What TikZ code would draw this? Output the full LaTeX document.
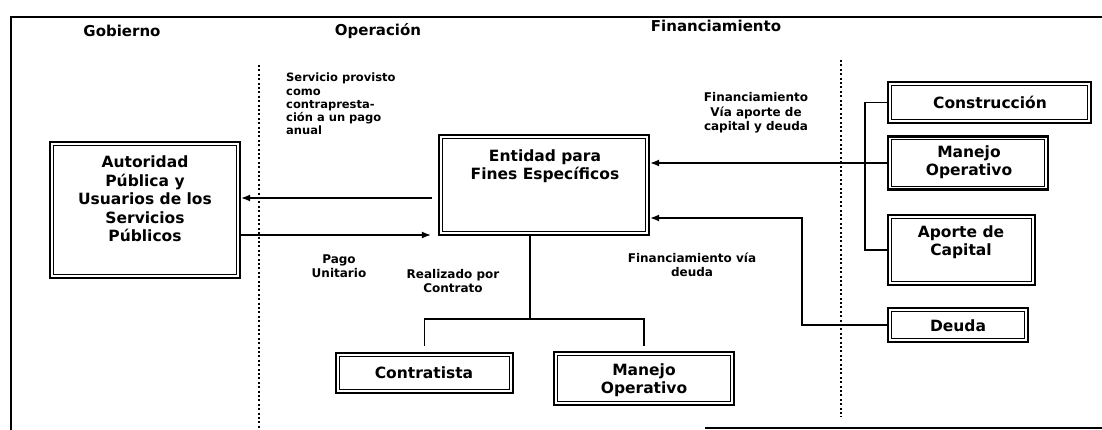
\documentclass[tikz,border=0pt]{standalone}
\usepackage{fontspec}
\setmainfont{DejaVu Sans}
\usetikzlibrary{arrows.meta,calc}
\begin{document}
\begin{tikzpicture}[x=1pt,y=-1pt,
  boxx/.style={draw, line width=2.4pt, inner sep=0pt},
  boxtext/.style={font=\bfseries\fontsize{15.5}{18.5}\selectfont, align=center, inner sep=0pt},
  lab/.style={font=\bfseries\fontsize{12}{14.5}\selectfont, align=center, inner sep=0pt},
  head/.style={font=\bfseries\fontsize{15}{18}\selectfont, inner sep=0pt},
  conn/.style={line width=1.3pt},
  arr/.style={conn, -{Latex[length=9pt,width=7pt]}},
  dotline/.style={line width=2pt, dash pattern=on 2pt off 2.4pt}]
\useasboundingbox (0,0) rectangle (1102,430);
% frame
\draw[line width=2pt] (11,430) -- (11,17) -- (1102,17);
\draw[line width=1.4pt] (705,428) -- (1102,428);
% headers
\node[head] (hgob) at (122,31) {Gobierno};
\node[head] (hope) at (378,31) {Operación};
\node[head] (hfin) at (716,26) {Financiamiento};
% dotted separators
\draw[dotline] (259,65) -- (259,428);
\draw[dotline] (841,60) -- (841,417);
% boxes
\node[boxx, minimum width=190pt, minimum height=136pt] (aut) at (145,210) {};
\node[boxx, minimum width=210pt, minimum height=100pt] (ent) at (544,185) {};
\node[boxx, minimum width=203pt, minimum height=41pt] (cons) at (989.5,102.5) {};
\node[boxx, minimum width=160pt, minimum height=53pt] (mop) at (968,163) {};
\node[boxx, minimum width=147pt, minimum height=70pt] (apo) at (961.5,250) {};
\node[boxx, minimum width=140pt, minimum height=34pt] (deu) at (958,325) {};
\node[boxx, minimum width=177pt, minimum height=40pt] (con) at (424.5,373) {};
\node[boxx, minimum width=180pt, minimum height=53pt] (mo2) at (644,378.5) {};
\foreach \n in {aut,ent,cons,mop,apo,deu,con,mo2}
  \draw[line width=0.8pt] ($(\n.north west)+(4.5,4.5)$) rectangle ($(\n.south east)+(-4.5,-4.5)$);
% box texts
\node[boxtext] (autT) at (145,199) {Autoridad\\Pública y\\Usuarios de los\\Servicios\\Públicos};
\node[boxtext] (entT) at (545,166) {Entidad para\\Fines Específicos};
\node[boxtext] (consT) at (990,102) {Construcción};
\node[boxtext] (mopT) at (969,162) {Manejo\\Operativo};
\node[boxtext] (apoT) at (961,242) {Aporte de\\Capital};
\node[boxtext] (deuT) at (958,326) {Deuda};
\node[boxtext] (conT) at (424,373) {Contratista};
\node[boxtext] (mo2T) at (644,380) {Manejo\\Operativo};
% labels
\node[lab, align=left, anchor=north west, font=\bfseries\fontsize{11.5}{13.2}\selectfont] (serv) at (286,73) {Servicio provisto\\como\\contrapresta-\\ción a un pago\\anual};
\node[lab] (fcd) at (756,113) {Financiamiento\\Vía aporte de\\capital y deuda};
\node[lab] (fvd) at (692,265) {Financiamiento vía\\deuda};
\node[lab] (pago) at (339,266) {Pago\\Unitario};
\node[lab] (real) at (453,281) {Realizado por\\Contrato};
% left arrows
\coordinate (ua) at (0,198);
\coordinate (la) at (0,235);
\draw[arr] ($(ent.west |- ua)+(-6,0)$) -- (aut.east |- ua);
\draw[arr] (aut.east |- la) -- ($(ent.west |- la)+(-7,0)$);
% right side bracket
\coordinate (br) at (865,163);
\draw[conn] (cons.west) -| (br) |- (apo.west);
\draw[conn] (mop.west) -- (br);
\draw[arr] (br) -- (ent.east |- br);
% deuda
\coordinate (dv) at (802,218);
\draw[arr] (deu.west) -| (dv) -- (ent.east |- dv);
% tree below entidad
\coordinate (tj) at (530,319);
\draw[conn] (ent.south -| tj) -- (tj);
\draw[conn] ($(con.north)+(0,-6)$) |- (tj) -| ($(mo2.north)+(0,-5)$);
\end{tikzpicture}
\end{document}
